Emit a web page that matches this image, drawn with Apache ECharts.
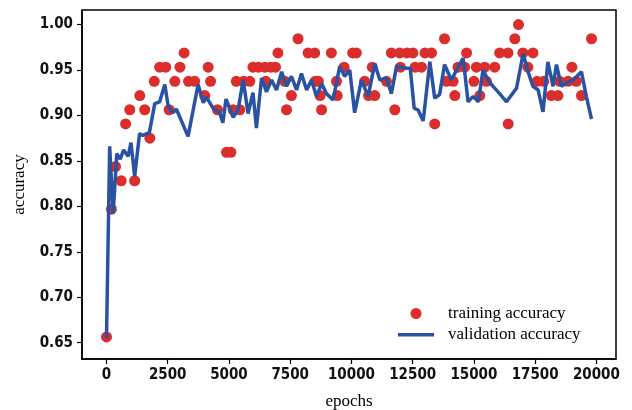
<!DOCTYPE html>
<html>
<head>
<meta charset="utf-8">
<script src="https://cdn.jsdelivr.net/npm/echarts@6/dist/echarts.min.js"></script>
<style>html,body{margin:0;padding:0;background:#fff}#c{width:632px;height:410px}</style>
</head>
<body>
<div id="c"></div>
<script>
var xTicks = [0, 2500, 5000, 7500, 10000, 12500, 15000, 17500, 20000];
var yTicks = [0.65, 0.70, 0.75, 0.80, 0.85, 0.90, 0.95, 1.00];

var trainEpochs = [0,200,370,600,780,950,1150,1360,1560,1770,1950,2170,2420,2560,2790,3000,3170,3350,3600,4010,4150,4250,4530,4900,5080,5170,5300,5440,5600,5850,5980,6200,6460,6500,6700,6900,7000,7280,7350,7550,7820,8230,8500,8520,8650,8720,8780,9180,9390,9420,9700,10050,10200,10540,10700,10850,10950,11430,11630,11770,11970,12000,12260,12510,12600,12860,13000,13270,13400,13800,13880,14150,14220,14350,14620,14700,15000,15100,15240,15440,15510,15850,16050,16390,16400,16670,16820,17000,17200,17410,17580,17850,18160,18430,18500,18840,19000,19180,19390,19800];
var trainAcc = [0.65625,0.796875,0.84375,0.828125,0.890625,0.90625,0.828125,0.921875,0.90625,0.875,0.9375,0.953125,0.953125,0.90625,0.9375,0.953125,0.96875,0.9375,0.9375,0.921875,0.953125,0.9375,0.90625,0.859375,0.859375,0.90625,0.9375,0.90625,0.9375,0.9375,0.953125,0.953125,0.953125,0.9375,0.953125,0.953125,0.96875,0.9375,0.90625,0.921875,0.984375,0.96875,0.96875,0.9375,0.9375,0.921875,0.90625,0.96875,0.9375,0.921875,0.953125,0.96875,0.96875,0.9375,0.921875,0.953125,0.921875,0.9375,0.96875,0.90625,0.96875,0.953125,0.96875,0.96875,0.953125,0.953125,0.96875,0.96875,0.890625,0.984375,0.9375,0.9375,0.921875,0.953125,0.953125,0.96875,0.9375,0.953125,0.921875,0.953125,0.9375,0.953125,0.96875,0.96875,0.890625,0.984375,1.0,0.96875,0.953125,0.96875,0.9375,0.9375,0.921875,0.921875,0.9375,0.9375,0.953125,0.9375,0.921875,0.984375];

var valEpochs = [0,130,270,420,560,700,880,1000,1150,1350,1480,1750,1970,2170,2380,2520,2720,2850,3330,3740,3950,4080,4350,4620,4750,4880,5170,5370,5580,5780,5980,6120,6330,6530,6740,6940,7150,7350,7550,7760,7960,8170,8370,8570,8780,8980,9250,9520,9720,9930,10130,10410,10680,10950,11160,11430,11630,11840,12250,12400,12560,12720,12930,13200,13400,13600,13800,14080,14290,14560,14760,14970,15180,15370,15580,15780,16050,16330,16740,17010,17210,17410,17620,17820,18020,18230,18370,18570,18780,19050,19390,19590,19800];
var valAcc = [0.655,0.866,0.792,0.858,0.852,0.862,0.855,0.870,0.833,0.880,0.878,0.881,0.913,0.915,0.934,0.910,0.903,0.907,0.877,0.934,0.914,0.920,0.908,0.903,0.892,0.918,0.898,0.906,0.939,0.902,0.925,0.886,0.941,0.926,0.939,0.928,0.948,0.932,0.943,0.928,0.946,0.928,0.939,0.921,0.935,0.924,0.917,0.954,0.943,0.950,0.903,0.939,0.921,0.957,0.939,0.941,0.924,0.954,0.952,0.952,0.908,0.906,0.894,0.959,0.919,0.923,0.956,0.939,0.950,0.963,0.915,0.921,0.915,0.950,0.939,0.932,0.924,0.915,0.930,0.968,0.948,0.932,0.928,0.904,0.959,0.932,0.956,0.932,0.936,0.939,0.948,0.921,0.896];

function zip(a, b) { return a.map(function (v, i) { return [v, b[i]]; }); }

var tickFont = { fontFamily: 'DejaVu Sans Condensed', fontSize: 15, fontWeight: 'bold', color: '#111' };
var nameFont = { fontFamily: 'Liberation Serif', fontSize: 17, color: '#000' };

var chart = echarts.init(document.getElementById('c'), null, { renderer: 'canvas' });
chart.setOption({
  animation: false,
  backgroundColor: '#fff',
  grid: { left: 82, right: 16, top: 10, bottom: 51, outerBoundsMode: 'none', containLabel: false, show: true, borderColor: '#000', borderWidth: 1.5, backgroundColor: 'transparent' },
  xAxis: {
    type: 'value', min: -1000, max: 20800,
    name: 'epochs', nameLocation: 'middle', nameGap: 34, nameTextStyle: nameFont,
    splitLine: { show: false },
    axisLine: { show: true, onZero: false, lineStyle: { color: '#000', width: 1.5 } },
    axisTick: { show: true, length: 5, customValues: xTicks, lineStyle: { color: '#000', width: 1.2 } },
    axisLabel: Object.assign({ margin: 9, customValues: xTicks, formatter: function (v) { return String(v); } }, tickFont)
  },
  yAxis: {
    type: 'value', min: 0.632, max: 1.016,
    name: 'accuracy', nameLocation: 'middle', nameGap: 54, nameTextStyle: nameFont,
    splitLine: { show: false },
    axisLine: { show: true, onZero: false, lineStyle: { color: '#000', width: 1.5 } },
    axisTick: { show: true, length: 5, customValues: yTicks, lineStyle: { color: '#000', width: 1.2 } },
    axisLabel: Object.assign({ margin: 9, customValues: yTicks, formatter: function (v) { return v.toFixed(2); } }, tickFont)
  },
  legend: {
    orient: 'vertical', left: 393, top: 300,
    itemWidth: 36, itemHeight: 11, itemGap: 4,
    textStyle: { fontFamily: 'Liberation Serif', fontSize: 17, color: '#000', lineHeight: 17, padding: [0, 0, 0, 9] },
    data: [
      { name: 'training accuracy', icon: 'circle' },
      { name: 'validation accuracy', icon: 'path://M0,0 L0.01,0 L0,0.01 Z M0,4 L36,4 L36,7.5 L0,7.5 Z M0,11 L0.01,11 L0,10.99 Z' }
    ]
  },
  series: [
    {
      name: 'training accuracy', type: 'scatter', data: zip(trainEpochs, trainAcc),
      symbol: 'circle', symbolSize: 11, itemStyle: { color: '#dc2d2d', opacity: 1 }, z: 2
    },
    {
      name: 'validation accuracy', type: 'line', data: zip(valEpochs, valAcc),
      symbol: 'none', lineStyle: { color: '#2a52a2', width: 3.5 }, itemStyle: { color: '#2a52a2' }, z: 3
    }
  ]
});
</script>
</body>
</html>
